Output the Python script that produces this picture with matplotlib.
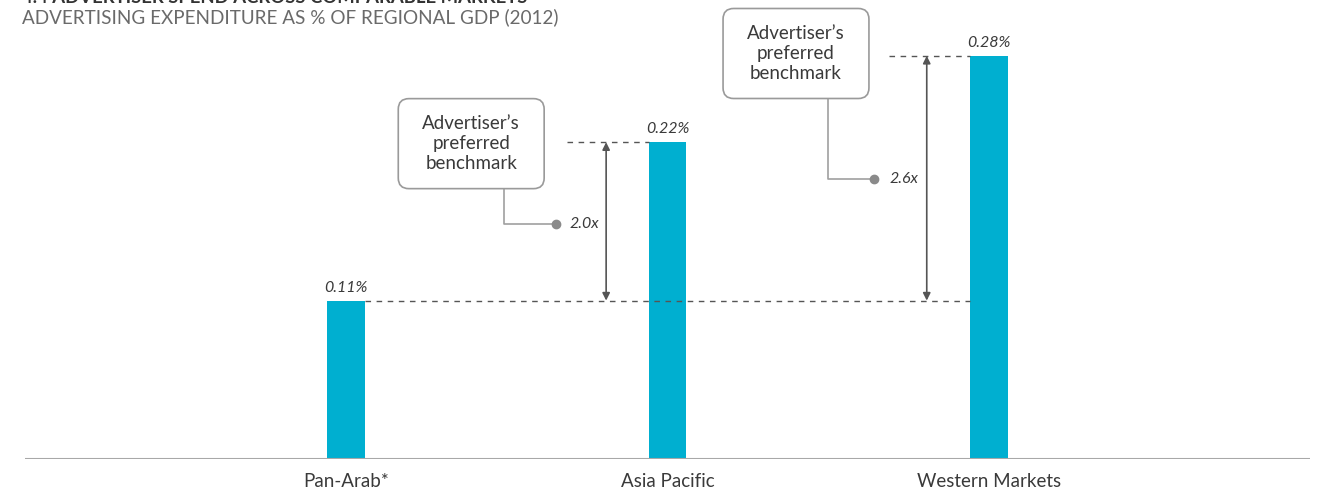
import matplotlib
matplotlib.use("Agg")
import matplotlib.pyplot as plt
from matplotlib.patches import FancyBboxPatch

plt.rcParams['font.family'] = ['Lato', 'DejaVu Sans']

# data
regions = ["Pan-Arab*", "Asia Pacific", "Western Markets"]
spend_pct = [0.11, 0.22, 0.28]
multiples = ["2.0x", "2.6x"]
value_labels = ["0.11%", "0.22%", "0.28%"]

BAR = "#00AFD0"
GREY = "#8a8a8a"
DARK = "#555555"
TXT = "#3a3a3a"

fig = plt.figure(figsize=(13.19, 4.91), dpi=100)
ax = fig.add_axes([25 / 1319, 32 / 491, 1285 / 1319, 459 / 491])
ax.set_xlim(-1.0, 3.0)
ax.set_ylim(0, 459 / 1440)
for s in ax.spines.values():
    s.set_visible(False)
ax.set_yticks([])
ax.set_xticks(range(len(regions)))
ax.set_xticklabels(regions, fontsize=13.5, color=TXT)
ax.tick_params(axis='x', length=0, pad=10)
ax.axhline(0, color="#a8a8a8", lw=1.5, zorder=3)

bw = 0.118
xs = list(range(len(regions)))
ax.bar(xs, spend_pct, width=bw, color=BAR, zorder=2)

for x, v, lab in zip(xs, spend_pct, value_labels):
    ax.text(x, v + 0.004, lab, ha='center', va='bottom', fontsize=11.5,
            style='italic', color=TXT)

# baseline reference line at Pan-Arab level
base = spend_pct[0]
ax.plot([xs[0] + bw / 2, xs[2] - bw / 2], [base, base], ls=(0, (4, 4)),
        color=DARK, lw=1, zorder=4)

# comparisons for Asia Pacific and Western Markets
dash_start = [0.687, 1.689]
arrow_x = [0.809, 1.807]
box_cx = [0.389, 1.40]
box_cy = [0.219, 0.2816]
conn_x = [0.491, 1.499]
conn_y = [0.1632, 0.1944]
dot_x = [0.653, 1.642]
lab_x = [0.694, 1.692]

bwid = 146 / 321.5
bhei = 90 / 1440
for i, k in enumerate([1, 2]):
    top = spend_pct[k]
    ax.plot([dash_start[i], xs[k] - bw / 2], [top, top], ls=(0, (4, 4)),
            color=DARK, lw=1, zorder=4)
    ax.annotate("", xy=(arrow_x[i], top), xytext=(arrow_x[i], base),
                arrowprops=dict(arrowstyle='<|-|>', color=DARK, lw=1.2,
                                shrinkA=0, shrinkB=0, mutation_scale=11))
    box = FancyBboxPatch((box_cx[i] - bwid / 2, box_cy[i] - bhei / 2), bwid, bhei,
                         boxstyle="round,pad=0,rounding_size=0.033",
                         mutation_aspect=321.5 / 1440,
                         fc='white', ec="#9a9a9a", lw=1.2, zorder=5)
    ax.add_patch(box)
    ax.text(box_cx[i], box_cy[i], "Advertiser’s\npreferred\nbenchmark",
            ha='center', va='center', fontsize=13.5, color=TXT,
            linespacing=1.2, zorder=6)
    ax.plot([conn_x[i], conn_x[i], dot_x[i]],
            [box_cy[i] - bhei / 2, conn_y[i], conn_y[i]],
            color="#a0a0a0", lw=1.2, zorder=4)
    ax.plot(dot_x[i], conn_y[i], 'o', color=GREY, ms=6, zorder=5)
    ax.text(lab_x[i], conn_y[i], multiples[i], ha='left', va='center',
            fontsize=11.5, style='italic', color=TXT)

fig.text(22 / 1319, 1 - 3 / 491, "4.4 ADVERTISER SPEND ACROSS COMPARABLE MARKETS",
         ha='left', va='baseline', fontsize=13.3, fontweight='bold', color="#333333")
fig.text(22 / 1319, 1 - 17 / 491, "ADVERTISING EXPENDITURE AS % OF REGIONAL GDP (2012)",
         ha='left', va='center', fontsize=13.6, color="#6a6a6a")

fig.savefig("out.png", dpi=100)
